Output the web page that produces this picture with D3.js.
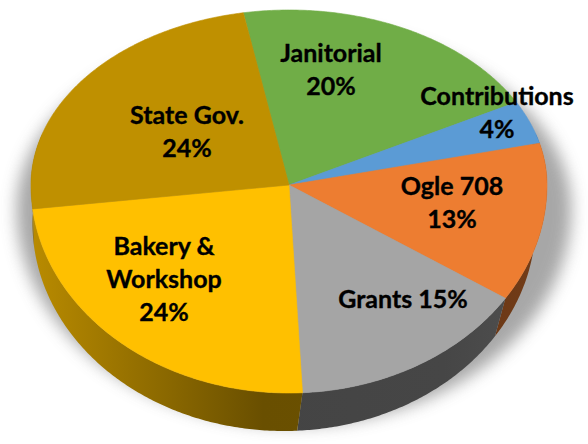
<!DOCTYPE html>
<html>
<head>
<meta charset="utf-8">
<script src="https://cdn.jsdelivr.net/npm/d3@7"></script>
<style>
  html, body { margin: 0; padding: 0; background: #fff; }
  svg text { font-family: "Lato", "Open Sans", sans-serif; font-weight: 700; fill: #000; stroke: #000; stroke-width: 0.35px; }
</style>
</head>
<body>
<div id="chart"></div>
<script>
// Data.
let categories = ["Janitorial", "Contributions", "Ogle 708", "Grants", "Bakery &\nWorkshop", "State Gov."];
let shares = [20, 4, 13, 15, 24, 24];
let colors = ["#70ad47", "#5b9bd5", "#ed7d31", "#a5a5a5", "#ffc000", "#bf9000"];

// Layout of the 3D disc.
let width = 588, height = 444;
let cx = 289, cy = 185;
let rx = 258, ryBack = 175, ryFront = 208, depth = 38;
let baseShift = -5, baseScale = 0.975;   // bottom rim sits a bit narrower / left (perspective)
let startAngle = -10.2 * Math.PI / 180;

// Label placement: [center x, first baseline], and whether the % sits on its own line.
let labelPos = [[331, 62], [497, 105], [452, 195], [403, 308], [164, 255], [187, 124]];
let pctOwnLine = [true, true, true, false, true, true];
let lineHeight = 33;

function pt(t, bottom) {
    let c = Math.cos(t);
    let ry = c > 0 ? ryBack : ryFront;
    if (!bottom) return [cx + rx * Math.sin(t), cy - ry * c];
    return [cx + baseShift + rx * baseScale * Math.sin(t), cy - ry * c + depth];
}

function arcPoints(a0, a1, bottom) {
    let n = Math.max(2, Math.ceil(Math.abs(a1 - a0) / 0.01));
    return d3.range(n + 1).map(i => pt(a0 + (a1 - a0) * i / n, bottom));
}

let data = categories.map((c, i) => ({ name: c, value: shares[i], color: colors[i] }));

let pie = d3.pie()
    .sort(null)
    .value(d => d.value)
    .startAngle(startAngle)
    .endAngle(startAngle + 2 * Math.PI);

let arcs = pie(data);

let svg = d3.select("#chart").append("svg")
    .attr("width", width)
    .attr("height", height);

let defs = svg.append("defs");
defs.append("filter")
    .attr("id", "blur")
    .attr("x", "-20%").attr("y", "-20%").attr("width", "140%").attr("height", "140%")
    .append("feGaussianBlur")
    .attr("stdDeviation", 8);

let line = d3.line();

// Soft drop shadow under the disc.
let shadowPts = arcPoints(0, 2 * Math.PI, false).map(p => [cx + 5 + (p[0] - cx) * 1.075, p[1] + 24 + (p[1] - cy) * 0.04]);
svg.append("path")
    .attr("d", line(shadowPts) + "Z")
    .attr("fill", "#8a8a8a")
    .attr("opacity", 0.75)
    .attr("filter", "url(#blur)");

// Side walls (front half).
arcs.forEach((a, i) => {
    let lo = Math.max(a.startAngle, Math.PI / 2 - 0.3);
    let hi = Math.min(a.endAngle, 3 * Math.PI / 2 + 0.3);
    if (lo >= hi) return;
    let base = d3.color(a.data.color);
    let gid = "side" + i;
    let g = defs.append("linearGradient")
        .attr("id", gid)
        .attr("gradientUnits", "userSpaceOnUse")
        .attr("x1", cx - rx).attr("x2", cx + rx)
        .attr("y1", 0).attr("y2", 0);
    g.append("stop").attr("offset", 0).attr("stop-color", base.darker(0.9));
    g.append("stop").attr("offset", 0.45).attr("stop-color", base.darker(2.5));
    g.append("stop").attr("offset", 0.8).attr("stop-color", base.darker(2.4));
    g.append("stop").attr("offset", 1).attr("stop-color", base.darker(2.0));
    let top = arcPoints(lo, hi, false);
    let bottom = arcPoints(hi, lo, true);
    svg.append("path")
        .attr("d", line(top.concat(bottom)) + "Z")
        .attr("fill", "url(#" + gid + ")");
});

// Top faces.
svg.selectAll("path.slice")
    .data(arcs)
    .enter()
    .append("path")
    .attr("class", "slice")
    .attr("d", a => line([[cx, cy]].concat(arcPoints(a.startAngle, a.endAngle, false))) + "Z")
    .attr("fill", a => a.data.color)
    .attr("stroke", a => a.data.color)
    .attr("stroke-width", 0.6);

// Labels.
arcs.forEach((a, i) => {
    let pct = a.data.value + "%";
    let lines = a.data.name.split("\n");
    if (pctOwnLine[i]) lines.push(pct);
    else lines[lines.length - 1] += " " + pct;
    let t = svg.append("text")
        .attr("text-anchor", "middle")
        .attr("font-size", 25);
    lines.forEach((s, k) => {
        t.append("tspan")
            .attr("x", labelPos[i][0])
            .attr("y", labelPos[i][1] + k * lineHeight)
            .text(s);
    });
});
</script>
</body>
</html>
